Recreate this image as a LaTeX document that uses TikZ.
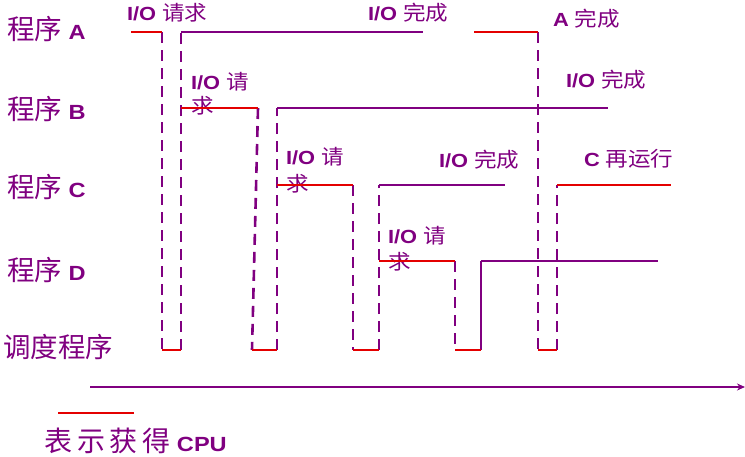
\documentclass[tikz,border=0pt]{standalone}
\usepackage{fontspec}
\setmainfont{Liberation Sans}[FakeStretch=1.15]
\newfontfamily\zhfont{Noto Sans CJK SC}
\newfontfamily\zhwide{Noto Sans CJK SC}[FakeStretch=1.1]
\newfontfamily\zhleg{Noto Sans CJK SC}[LetterSpace=16]
\usetikzlibrary{arrows.meta}
\definecolor{purp}{RGB}{128,0,128}
\definecolor{cpured}{RGB}{228,0,0}
\newcommand\latB[1]{{\fontsize{19}{22}\selectfont\bfseries #1}}
\newcommand\latL[1]{{\fontsize{20.5}{24}\selectfont\bfseries #1}}
\newcommand\latG[1]{{\fontsize{20.5}{24}\selectfont\bfseries #1}}
\newcommand\zhS[1]{{\zhwide\fontsize{20.5}{24}\selectfont #1}}
\newcommand\zhL[1]{{\zhfont\fontsize{27.5}{30}\selectfont #1}}
\newcommand\zhG[1]{{\zhleg\fontsize{28}{30}\selectfont #1}}
\begin{document}
\begin{tikzpicture}[x=1pt,y=-1pt,
  lbl/.style={inner sep=0pt, outer sep=0pt, text=purp, anchor=west},
  cpuline/.style={cpured, line width=2.2pt},
  ioline/.style={purp, line width=2.2pt},
  swline/.style={purp, line width=2.6pt, dash pattern=on 11pt off 7pt},
  axisline/.style={purp, line width=2.2pt, -{Stealth[length=8pt,width=7pt]}}]
\useasboundingbox (0,0) rectangle (745,456);
% ---- row labels
\node[lbl] (rA) at (7,29) {\zhL{程序}\latL{\ A}};
\node[lbl] (rB) at (7,109) {\zhL{程序}\latL{\ B}};
\node[lbl] (rC) at (7,187) {\zhL{程序}\latL{\ C}};
\node[lbl] (rD) at (7,270) {\zhL{程序}\latL{\ D}};
\node[lbl] (rS) at (3,347) {\zhL{调度程序}};
% ---- event labels
\node[lbl] (tA1) at (127,13) {\latB{I/O\ }\zhS{请求}};
\node[lbl] (tA2) at (368,13) {\latB{I/O\ }\zhS{完成}};
\node[lbl] (tA3) at (553,19) {\latB{A\ }\zhS{完成}};
\node[lbl] (tB1) at (191,82) {\latB{I/O\ }\zhS{请}};
\node[lbl] (tB1b) at (191,106) {\zhS{求}};
\node[lbl] (tB2) at (566,80) {\latB{I/O\ }\zhS{完成}};
\node[lbl] (tC1) at (286,157) {\latB{I/O\ }\zhS{请}};
\node[lbl] (tC1b) at (286,184) {\zhS{求}};
\node[lbl] (tC2) at (439,160) {\latB{I/O\ }\zhS{完成}};
\node[lbl] (tC3) at (584,159) {\latB{C\ }\zhS{再运行}};
\node[lbl] (tD1) at (388,236) {\latB{I/O\ }\zhS{请}};
\node[lbl] (tD1b) at (388,262) {\zhS{求}};
% ---- key points
\coordinate (a0) at (131,32);  \coordinate (a1) at (162,32);
\coordinate (a2) at (181,32);  \coordinate (a3) at (423,32);
\coordinate (a4) at (474,32);  \coordinate (a5) at (538,32);
\coordinate (b0) at (181,108); \coordinate (b1) at (258,108);
\coordinate (b2) at (277,108); \coordinate (b3) at (608,108);
\coordinate (c0) at (277,185); \coordinate (c1) at (353,185);
\coordinate (c2) at (379,185); \coordinate (c3) at (505,185);
\coordinate (c4) at (557,185); \coordinate (c5) at (671,185);
\coordinate (d0) at (379,261); \coordinate (d1) at (455,261);
\coordinate (d2) at (481,261); \coordinate (d3) at (658,261);
\coordinate (s1) at (162,350); \coordinate (s2) at (181,350);
\coordinate (s3) at (252,350); \coordinate (s4) at (277,350);
\coordinate (s5) at (353,350); \coordinate (s6) at (379,350);
\coordinate (s7) at (455,350); \coordinate (s8) at (481,350);
\coordinate (s9) at (538,350); \coordinate (s10) at (557,350);
\coordinate (ax0) at (90,387); \coordinate (ax1) at (745,387);
\coordinate (lg0) at (58,413); \coordinate (lg1) at (134,413);
% ---- switches (dashed)
\draw[swline] (a1) -- (s1);
\draw[swline] (s2) -- (a2);
\draw[swline] (b1) -- (s3);
\draw[swline] (s4) -- (b2);
\draw[swline] (c1) -- (s5);
\draw[swline] (s6) -- (c2);
\draw[swline] (d1) -- (s7);
\draw[swline] (a5) -- (s9);
\draw[swline] (s10) -- (c4);
\draw[ioline] (s8) -- (d2);
% ---- CPU runs (red)
\draw[cpuline] (a0) -- (a1);
\draw[cpuline] (a4) -- (a5);
\draw[cpuline] (b0) -- (b1);
\draw[cpuline] (c0) -- (c1);
\draw[cpuline] (c4) -- (c5);
\draw[cpuline] (d0) -- (d1);
\draw[cpuline] (s1) -- (s2);
\draw[cpuline] (s3) -- (s4);
\draw[cpuline] (s5) -- (s6);
\draw[cpuline] (s7) -- (s8);
\draw[cpuline] (s9) -- (s10);
% ---- I/O waits (purple)
\draw[ioline] (a2) -- (a3);
\draw[ioline] (b2) -- (b3);
\draw[ioline] (c2) -- (c3);
\draw[ioline] (d2) -- (d3);
% ---- time axis and legend
\draw[axisline] (ax0) -- (ax1);
\draw[cpuline] (lg0) -- (lg1);
\node[lbl] (leg) at (45,441) {\zhG{表示获得}\latG{\ CPU}};
\end{tikzpicture}
\end{document}
